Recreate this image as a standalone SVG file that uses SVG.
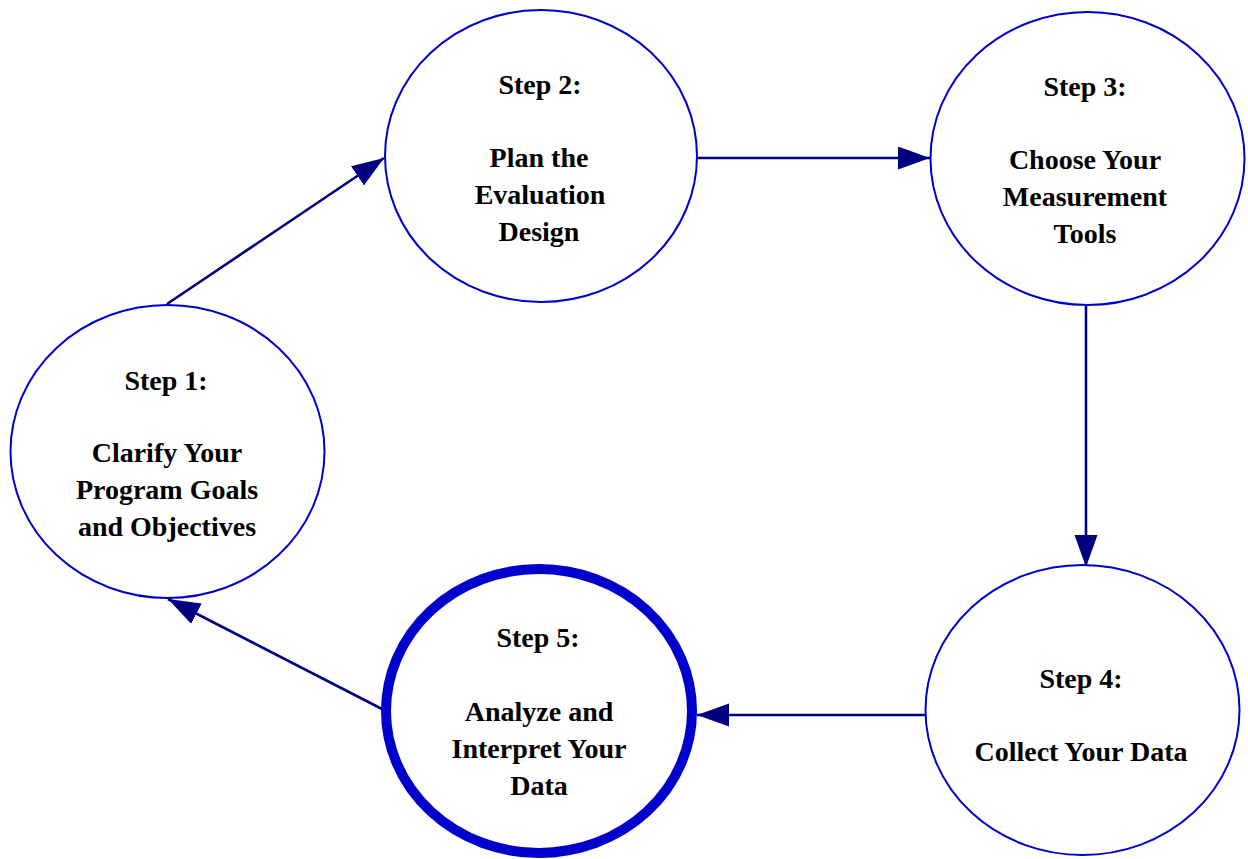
<svg xmlns="http://www.w3.org/2000/svg" width="1248" height="859" viewBox="0 0 1248 859">
<style>
.n{fill:#fff;stroke:#0000cc;stroke-width:2}
.t{font-family:"Liberation Serif","Times New Roman",serif;font-weight:bold;font-size:28px;fill:#000;text-anchor:middle}
.c{stroke:#000080;stroke-width:2.6;fill:none;marker-end:url(#ah)}
</style>
<defs>
<marker id="ah" markerUnits="userSpaceOnUse" markerWidth="32" markerHeight="24" refX="32" refY="11.5" orient="auto">
<path d="M0,0 L32,11.5 L0,23 Z" fill="#000080"/>
</marker>
</defs>
<rect width="1248" height="859" fill="#fff"/>
<g id="connectors">
<line class="c" x1="167" y1="304" x2="384" y2="158"/>
<line class="c" x1="697" y1="158" x2="930" y2="158"/>
<line class="c" x1="1086" y1="305" x2="1086" y2="567"/>
<line class="c" x1="925" y1="715" x2="697" y2="715"/>
<line class="c" x1="382" y1="709" x2="168" y2="599"/>
</g>
<g id="step1">
<ellipse class="n" cx="167.5" cy="451.5" rx="157" ry="146.5"/>
<text class="t" x="166" y="390">Step 1:</text>
<text class="t" x="167" y="462">Clarify Your</text>
<text class="t" x="167" y="499">Program Goals</text>
<text class="t" x="167" y="536">and Objectives</text>
</g>
<g id="step2">
<ellipse class="n" cx="541" cy="156" rx="156" ry="146"/>
<text class="t" x="540" y="94">Step 2:</text>
<text class="t" x="539" y="167">Plan the</text>
<text class="t" x="540" y="204">Evaluation</text>
<text class="t" x="539" y="241">Design</text>
</g>
<g id="step3">
<ellipse class="n" cx="1087.5" cy="158.5" rx="157" ry="146.5"/>
<text class="t" x="1085" y="96">Step 3:</text>
<text class="t" x="1085" y="169">Choose Your</text>
<text class="t" x="1085" y="206">Measurement</text>
<text class="t" x="1085" y="243">Tools</text>
</g>
<g id="step4">
<ellipse class="n" cx="1082.5" cy="710" rx="157" ry="145"/>
<text class="t" x="1081" y="688">Step 4:</text>
<text class="t" x="1081" y="761">Collect Your Data</text>
</g>
<g id="step5">
<ellipse cx="539" cy="711" rx="153" ry="142" fill="#fff" stroke="#0000cc" stroke-width="10"/>
<text class="t" x="538" y="647">Step 5:</text>
<text class="t" x="539" y="721">Analyze and</text>
<text class="t" x="539" y="758">Interpret Your</text>
<text class="t" x="539" y="795">Data</text>
</g>
</svg>
